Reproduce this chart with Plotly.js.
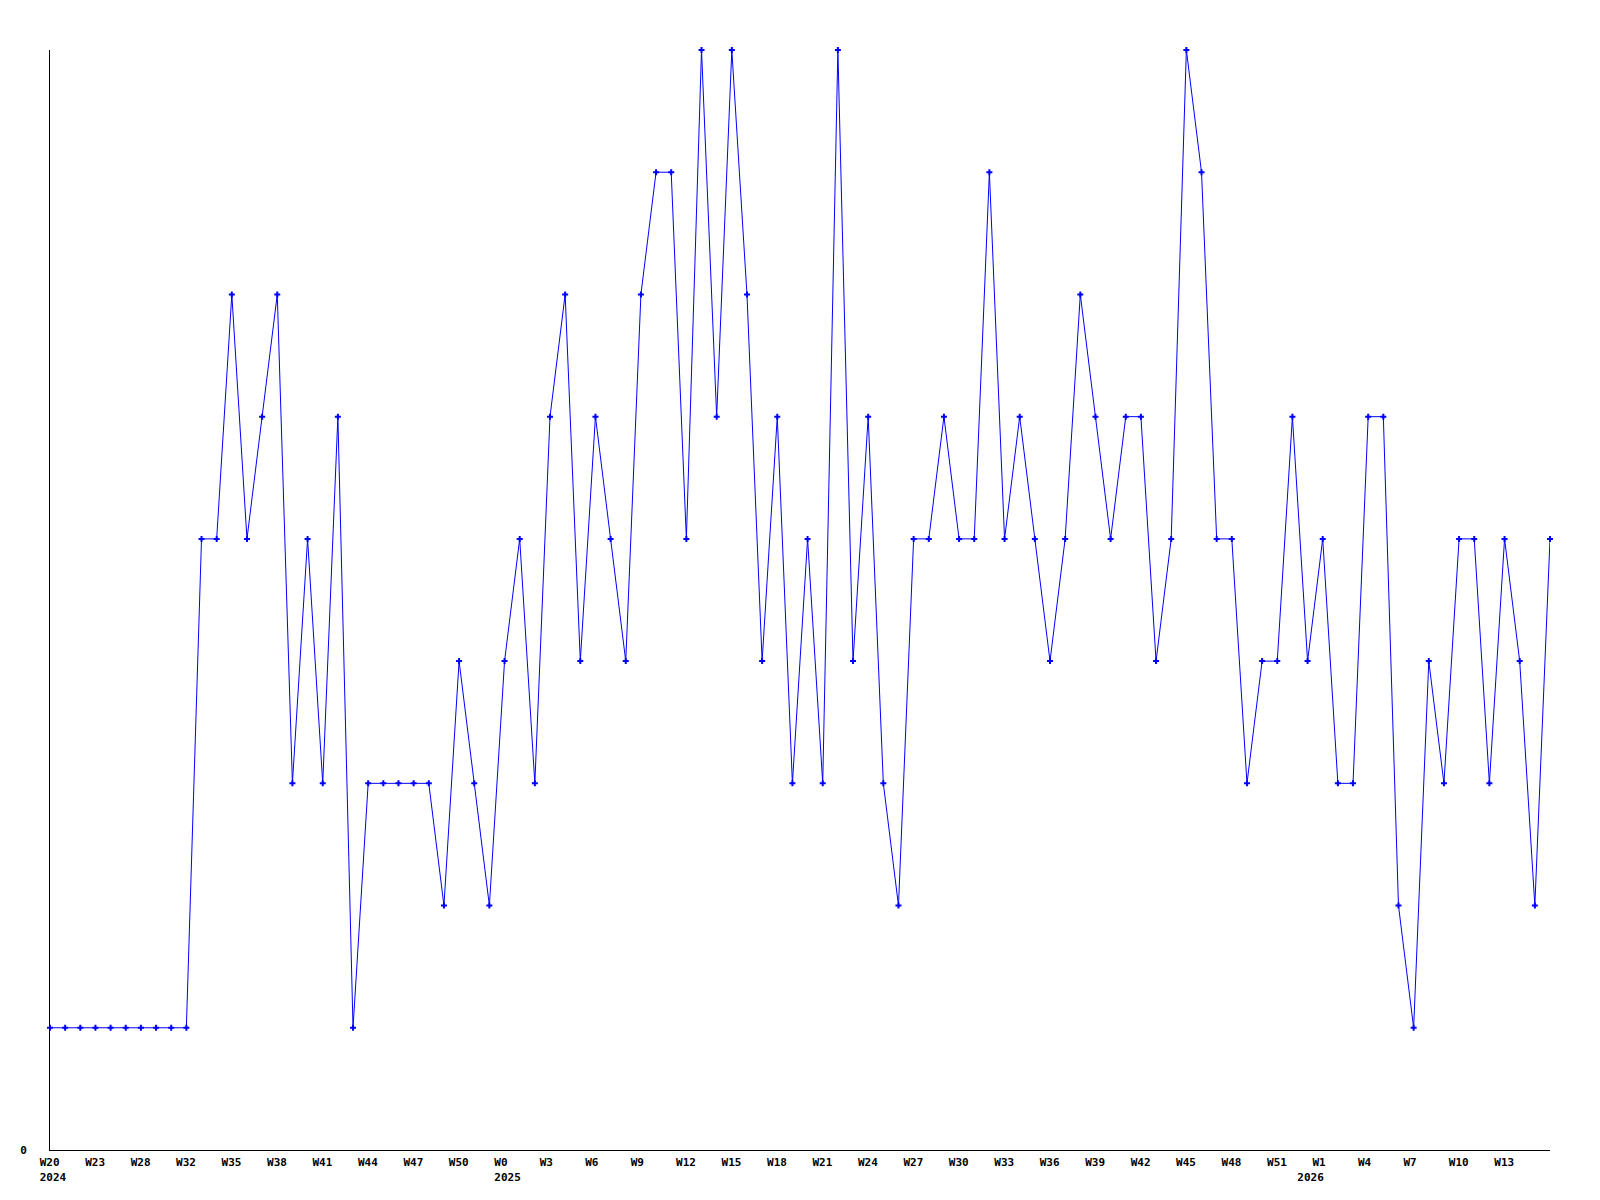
<!DOCTYPE html>
<html>
<head>
<meta charset="utf-8">
<script src="https://cdn.plot.ly/plotly-3.0.1.min.js"></script>
<style>html,body{margin:0;padding:0;background:#fff;}#chart{width:1600px;height:1200px;}</style>
</head>
<body>
<div id="chart"></div>
<script>
// Values per point (one point per step along the x axis)
const values = [
  1,1,1,1,1,1,1,1,1,1,
  5,5,7,5,6,7,3,5,3,6,
  1,3,3,3,3,3,2,4,3,2,
  4,5,3,6,7,4,6,5,4,7,
  8,8,5,9,6,9,7,4,6,3,
  5,3,9,4,6,3,2,5,5,6,
  5,5,8,5,6,5,4,5,7,6,
  5,6,6,4,5,9,8,5,5,3,
  4,4,6,4,5,3,3,6,6,2,
  1,4,3,5,5,3,5,4,2,5
];
// Week tick labels, one every third point
const weekLabels = ["W20","W23","W28","W32","W35","W38","W41","W44","W47","W50",
  "W0","W3","W6","W9","W12","W15","W18","W21","W24","W27","W30","W33","W36",
  "W39","W42","W45","W48","W51","W1","W4","W7","W10","W13"];
const labelStep = 3;
// Year labels and the point index where each appears
const yearLabels = ["2024","2025","2026"];
const yearPoints = [0, 30, 83];

const xs = values.map((v,i)=>i);
const pad = s => { while (s.length < 4) s += "\u00a0"; return s; };

const tickMap = {};
weekLabels.forEach((w,k)=>{ tickMap[k*labelStep] = {w: w, y: ""}; });
yearLabels.forEach((y,k)=>{
  const p = yearPoints[k];
  if (!tickMap[p]) tickMap[p] = {w: "", y: ""};
  tickMap[p].y = y;
});
const tickvals = Object.keys(tickMap).map(Number).sort((a,b)=>a-b);
const ticktext = tickvals.map(v => pad(tickMap[v].w) + "<br>" + pad(tickMap[v].y));

const font = {family: "DejaVu Sans Mono", size: 11, color: "#000", weight: "bold"};

Plotly.newPlot("chart", [{
  x: xs, y: values, type: "scatter", mode: "lines+markers",
  line: {color: "#0000ff", width: 1},
  marker: {color: "#0000ff", symbol: "cross", size: 5},
  cliponaxis: false, hoverinfo: "none"
}], {
  width: 1600, height: 1200,
  margin: {l: 50, r: 50, t: 50, b: 50},
  paper_bgcolor: "#fff", plot_bgcolor: "#fff",
  showlegend: false,
  font: font,
  xaxis: {
    range: [0, values.length - 1], showgrid: false, zeroline: false,
    showline: true, linecolor: "#000", linewidth: 1,
    tickmode: "array", tickvals: tickvals, ticktext: ticktext,
    tickangle: 0,
    tickfont: font, ticks: "", ticklabelshift: 3, ticklabelstandoff: 2
  },
  yaxis: {
    range: [0, 9], showgrid: false, zeroline: false,
    showline: true, linecolor: "#000", linewidth: 1,
    tickmode: "array", tickvals: [0], ticktext: ["0"],
    tickfont: font, ticks: "", ticklabelstandoff: 20
  }
}, {displayModeBar: false, staticPlot: true});
</script>
</body>
</html>
